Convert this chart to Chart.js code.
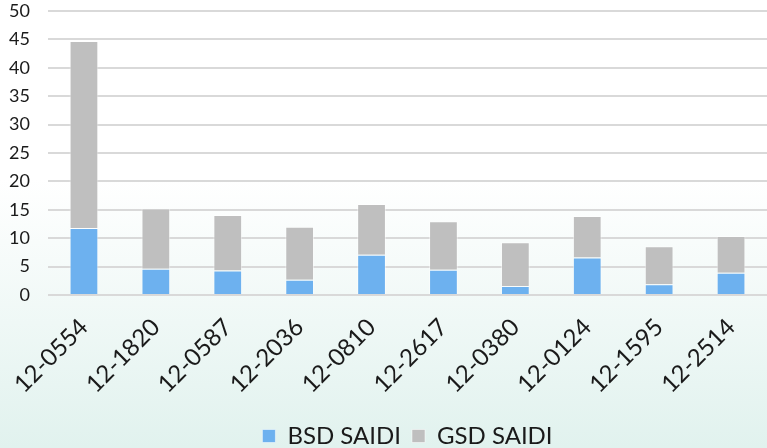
<!DOCTYPE html>
<html>
<head>
<meta charset="utf-8">
<script src="https://cdn.jsdelivr.net/npm/chart.js@4.4.0/dist/chart.umd.min.js"></script>
<style>
  html, body { margin: 0; padding: 0; background: #fff; }
  #wrap { width: 767px; height: 448px; position: relative; }
</style>
</head>
<body>
<div id="wrap"><canvas id="saidiChart"></canvas></div>
<script>
// Feeder ids and SAIDI parts
const feeders = ['12-0554', '12-1820', '12-0587', '12-2036', '12-0810', '12-2617', '12-0380', '12-0124', '12-1595', '12-2514'];
const bsdSaidi = [11.8, 4.6, 4.3, 2.7, 7.1, 4.45, 1.6, 6.6, 1.9, 3.9];
const gsdSaidi = [32.9, 10.65, 9.8, 9.3, 8.9, 8.55, 7.7, 7.3, 6.7, 6.5];
const yTicks = [0, 5, 10, 15, 20, 25, 30, 35, 40, 45, 50];

// paints the pale green gradient behind everything
const backdrop = {
    id: 'backdrop',
    beforeDraw(chart) {
        const { ctx, width, height } = chart;
        const grad = ctx.createLinearGradient(0, 0, 0, height);
        grad.addColorStop(0, '#ffffff');
        grad.addColorStop(0.4, '#ffffff');
        grad.addColorStop(1, '#e1f2ee');
        ctx.save();
        ctx.fillStyle = grad;
        ctx.fillRect(0, 0, width, height);
        ctx.restore();
    }
};

const ctx = document.getElementById('saidiChart');
new Chart(ctx, {
    type: 'bar',
    data: {
        labels: feeders,
        datasets: [{
            label: 'BSD SAIDI',
            data: bsdSaidi,
            backgroundColor: '#6db1ef',
            borderColor: 'rgba(255,255,255,0.5)',
            borderWidth: 1,
            barPercentage: 0.4,
            categoryPercentage: 1
        }, {
            label: 'GSD SAIDI',
            data: gsdSaidi,
            backgroundColor: '#bfbfbf',
            borderColor: 'rgba(255,255,255,0.5)',
            borderWidth: 1,
            barPercentage: 0.4,
            categoryPercentage: 1
        }]
    },
    options: {
        responsive: true,
        maintainAspectRatio: false,
        animation: false,
        layout: { padding: 0 },
        plugins: {
            legend: {
                position: 'bottom',
                fullSize: false, // centre it under the plot area, not the canvas
                maxHeight: 35,
                labels: {
                    boxWidth: 13,
                    boxHeight: 13,
                    padding: 11,
                    color: '#1a1a1a',
                    font: { family: 'Lato', size: 24 }
                }
            },
            tooltip: { enabled: false }
        },
        scales: {
            x: {
                stacked: true,
                grid: { display: false, drawTicks: false },
                border: { display: false },
                ticks: {
                    minRotation: 45,
                    maxRotation: 45,
                    color: '#1a1a1a',
                    padding: 18,
                    font: { family: 'Lato', size: 24 }
                },
                afterFit(scale) {
                    scale.height = 118;
                    scale.paddingLeft = 0;
                    scale.paddingRight = 0;
                }
            },
            y: {
                stacked: true,
                min: 0,
                max: 50,
                afterBuildTicks(scale) { scale.ticks = yTicks.map(v => ({ value: v })); },
                grid: { color: '#d9d9d9', lineWidth: 2, drawTicks: false },
                border: { display: false },
                ticks: {
                    color: '#1a1a1a',
                    padding: 18,
                    font: { family: 'Lato', size: 18 }
                },
                afterFit(scale) {
                    scale.width = 48;
                    // keep the 50 line near the top edge
                    scale.paddingTop = 11;
                    scale.paddingBottom = 0;
                }
            }
        }
    },
    plugins: [backdrop]
});
</script>
</body>
</html>
